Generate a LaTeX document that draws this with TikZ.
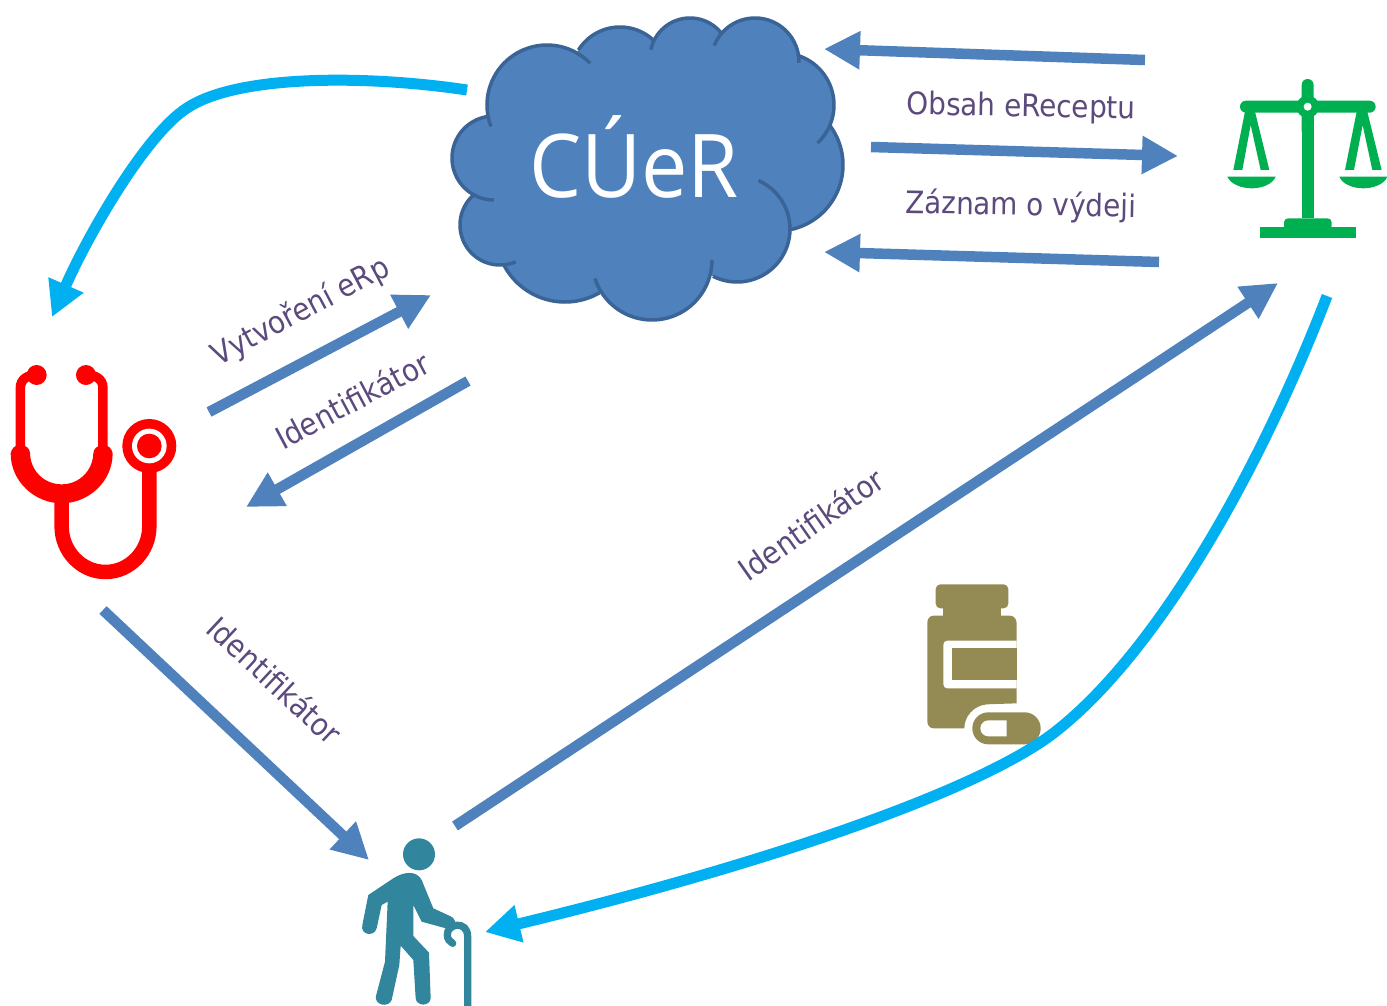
\documentclass[tikz,border=0pt]{standalone}
\usepackage{fontspec}
\setmainfont{DejaVu Sans Condensed}
\newfontfamily\cloudfont[FakeStretch=0.94]{Open Sans}
\usetikzlibrary{arrows.meta}
\definecolor{flowblue}{HTML}{4F81BD}
\definecolor{cloudedge}{HTML}{3A6396}
\definecolor{sky}{HTML}{00B0F0}
\definecolor{labelpurple}{HTML}{5C4A7C}
\definecolor{docred}{HTML}{FF0000}
\definecolor{lawgreen}{HTML}{00B050}
\definecolor{teal}{HTML}{31859C}
\definecolor{olive}{HTML}{948A54}
\tikzset{
  flow/.style={line width=10.5pt,draw=flowblue,-{Triangle[length=36pt,width=36pt]}},
  dispense/.style={line width=11pt,draw=sky,-{Triangle[length=35pt,width=36pt]}},
  lbl/.style={text=labelpurple,font=\fontsize{31}{33}\selectfont,inner sep=0pt},
  icon/.style={x=0.3333pt,y=-0.3333pt}
}
\newcommand{\lobelist}{547/105/60/159/316, 620/76/49/212/312, 690/58/40/192/322, 755/62/44/202/361, 782/105/52/-72/47, 777/165/66/-37/78, 737/229/53/-66/117, 652/260/60/0/162, 565/233/69/60/152, 500/225/40/67/228, 494/158/42/90/263}
\begin{document}
\begin{tikzpicture}[x=1pt,y=-1pt]
\useasboundingbox (0,0) rectangle (1387,1005);
% ---- cloud
\fill[flowblue] (465,160)--(491,122)--(540,55)--(578,54)--(620,35)--(653,44)--(690,28)--(722,38)--(753,28)--(796,62)--(820,85)--(826,128)--(832,165)--(786,226)--(770,255)--(712,274)--(652,310)--(600,289)--(565,293)--(507,262)--(480,240)--(475,197)--cycle;
\foreach \cx/\cy/\r/\a/\b in \lobelist {
  \fill[flowblue] (\cx,\cy) circle[radius=\r pt];
}
\foreach \cx/\cy/\r/\a/\b in \lobelist {
  \draw[cloudedge,line width=3.5pt] plot[domain=\a:\b,samples=40] ({\cx+\r*cos(\x)},{\cy+\r*sin(\x)});
}
\node[text=white,inner sep=0pt,font=\cloudfont\fontsize{88}{90}\selectfont] (cuer) at (634,157) {CÚeR};
% ---- stethoscope
\begin{scope}[shift={(0,350)},icon,docred]
  \fill (110,75) circle (30);
  \fill (258,75) circle (30);
  \draw[line width=9.5pt] (61,300) -- (61,115) .. controls (61,85) and (85,75) .. (110,75);
  \draw[line width=9.5pt] (309,300) -- (309,115) .. controls (309,85) and (285,75) .. (258,75);
  \fill (32,310) .. controls (35,295) and (45,285) .. (60,285) .. controls (78,285) and (90,295) .. (90,310)
     .. controls (92,365) and (135,403) .. (185,403) .. controls (235,403) and (278,365) .. (280,310)
     .. controls (280,295) and (295,285) .. (310,285) .. controls (325,285) and (335,295) .. (338,310)
     .. controls (338,395) and (265,460) .. (185,460) .. controls (105,460) and (32,395) .. (32,310) -- cycle;
  \draw[line width=14.5pt] (185,450) -- (185,530) .. controls (185,603) and (243,666) .. (316.5,666) .. controls (390,666) and (448,603) .. (448,530) -- (448,360);
  \fill (448,288) circle (81);
  \fill[white] (448,288) circle (52);
  \fill (448,288) circle (37);
\end{scope}
% ---- scales
\begin{scope}[shift={(1210,70)},icon,lawgreen]
  \fill[rounded corners=5.9pt] (275,200) -- (275,27) -- (311,27) -- (311,200) -- cycle;
  \fill[rounded corners=5.9pt] (90,92) rectangle (497,128);
  \fill (275,128) rectangle (311,445);
  \fill (293,110) circle (34);
  \fill[white] (293,110) circle (12);
  \fill[rounded corners=4pt] (222,480) -- (222,445) -- (365,445) -- (365,480) -- cycle;
  \fill (150,470) rectangle (437,505);
  \fill (105,125) -- (70,300) -- (97,300) -- (122,165) -- (152,300) -- (178,300) -- (135,125) -- cycle;
  \fill (52,320) -- (197,320) .. controls (188,343) and (155,355) .. (125,355) .. controls (95,355) and (62,343) .. (52,320) -- cycle;
  \fill (440,125) -- (405,300) -- (432,300) -- (458,165) -- (487,300) -- (515,300) -- (472,125) -- cycle;
  \fill (388,320) -- (532,320) .. controls (523,343) and (490,355) .. (460,355) .. controls (430,355) and (397,343) .. (388,320) -- cycle;
\end{scope}
% ---- patient
\begin{scope}[shift={(350,830)},icon,teal]
  \fill (207,73) circle (48);
  \fill (130,145) .. controls (160,125) and (200,120) .. (215,150) -- (250,235) -- (300,258)
     .. controls (325,268) and (320,305) .. (295,297) -- (215,275) -- (190,225) -- (190,318) -- (237,368) -- (242,505)
     .. controls (240,530) and (200,530) .. (197,505) -- (190,390) -- (152,347) -- (148,405) -- (125,510)
     .. controls (115,535) and (72,525) .. (78,498) -- (105,395) -- (113,215) -- (95,225) -- (80,295)
     .. controls (72,322) and (30,315) .. (37,285) -- (55,195) -- cycle;
  \draw[line width=7.3pt,line cap=round] (353,530) -- (353,320) .. controls (353,270) and (290,280) .. (292,315) .. controls (292,328) and (300,335) .. (308,340);
\end{scope}
% ---- medicine bottle
\begin{scope}[shift={(915,575)},icon,olive]
  \fill[rounded corners=4.7pt] (62,100) -- (62,28) -- (280,28) -- (280,100) -- cycle;
  \fill (85,95) rectangle (258,130);
  \fill (55,122) -- (285,122) .. controls (297,122) and (305,133) .. (305,145) -- (305,385)
     -- (215,388) .. controls (175,392) and (148,425) .. (148,460) -- (55,460) .. controls (45,460) and (37,450) .. (37,440) -- (37,142) .. controls (37,132) and (45,122) .. (55,122) -- cycle;
  \fill[white] (305,197) -- (97,197) .. controls (90,197) and (85,202) .. (85,209) -- (85,328) .. controls (85,335) and (90,340) .. (97,340) -- (305,340) -- cycle;
  \fill (110,220) rectangle (305,316);
  \fill[rounded corners=15.9pt] (172,412) rectangle (377,508);
  \fill[white] (275,436) -- (220,436) .. controls (207,436) and (196,447) .. (196,460) .. controls (196,473) and (207,484) .. (220,484) -- (275,484) -- cycle;
\end{scope}
% ---- connector ends
\coordinate (o1) at (1145,60);   \coordinate (t1) at (824,49);
\coordinate (o2) at (871,147);   \coordinate (t2) at (1178,156);
\coordinate (o3) at (1159,262);  \coordinate (t3) at (824,252);
\coordinate (o4) at (209,412);   \coordinate (t4) at (431,295);
\coordinate (o5) at (468,381);   \coordinate (t5) at (246,507);
\coordinate (o6) at (103,610);   \coordinate (t6) at (369,860);
\coordinate (o7) at (455,826);   \coordinate (t7) at (1278,283);
\coordinate (o8) at (467,90);    \coordinate (t8) at (52,317);
\coordinate (o9) at (1327,296);  \coordinate (t9) at (485,932);
\draw[flow] (o1) -- (t1);
\draw[flow] (o2) -- (t2);
\draw[flow] (o3) -- (t3);
\draw[flow] (o4) -- (t4);
\draw[flow] (o5) -- (t5);
\draw[flow] (o6) -- (t6);
\draw[flow] (o7) -- (t7);
\draw[dispense] (o8) .. controls (375,76) and (240,73) .. (187,108) .. controls (145,135) and (87,237) .. (t8);
\draw[dispense] (o9) .. controls (1262,465) and (1160,650) .. (1055,732) .. controls (975,794) and (750,868) .. (t9);
% ---- labels
\node[lbl,rotate=-1] (l1) at (1021,108) {Obsah eReceptu};
\node[lbl,rotate=-1] (l2) at (1021,206) {Záznam o výdeji};
\node[lbl,rotate=28] (l3) at (301,312) {Vytvoření eRp};
\node[lbl,rotate=28] (l4) at (352,400) {Identifikátor};
\node[lbl,rotate=35] (l5) at (811,524) {Identifikátor};
\node[lbl,rotate=-43] (l6) at (275,680) {Identifikátor};
\end{tikzpicture}
\end{document}
